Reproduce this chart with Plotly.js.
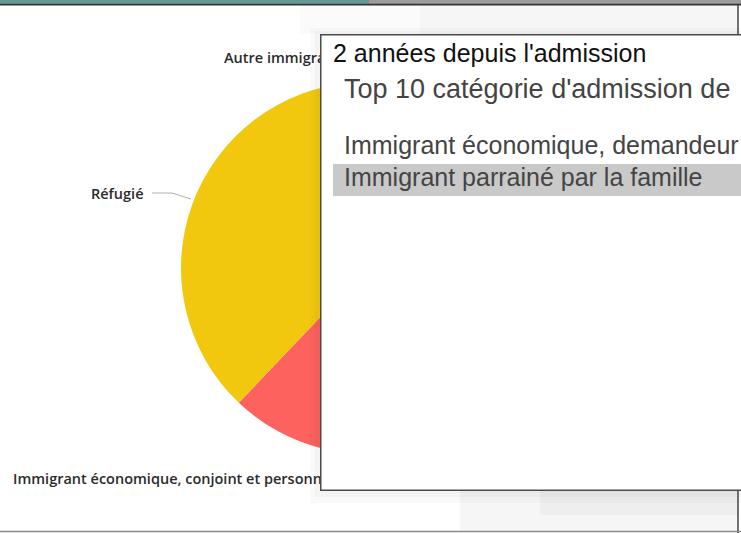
<!DOCTYPE html>
<html>
<head>
<meta charset="utf-8">
<script src="https://cdn.plot.ly/plotly-3.0.1.min.js"></script>
<style>html,body{margin:0;padding:0;background:#fff;}#chart{width:741px;height:533px;}</style>
</head>
<body>
<div id="chart"></div>
<script>
// Data (hidden slices estimated)
const categories = [
  "Immigrant économique, demandeur principal",
  "Immigrant parrainé par la famille",
  "Immigrant économique, conjoint et personnes à charge",
  "Réfugié",
  "Autre immigrant"
];
const values = [27.5, 18.3, 16.3, 36.8, 1.1];
const sliceColors = ["#01B8AA", "#374649", "#FD625E", "#F2C80F", "#5F6B6D"];
const dropdownTitle = "2 années depuis l'admission";
const dropdownItems = [
  "Top 10 catégorie d'admission de",
  "Immigrant économique, demandeur",
  "Immigrant parrainé par la famille"
];

const W = 741, H = 533;
const X = px => px / W;
const Y = py => 1 - py / H;

const labelFont = {family: "'Open Sans', Roboto, sans-serif", size: 14.5, weight: 600, color: "#2b2b2b"};
const ddFont = {family: "'Liberation Sans', Arial, sans-serif", size: 25, color: "#444444"};

const trace = {
  type: "pie",
  labels: categories,
  values: values,
  sort: false,
  direction: "clockwise",
  rotation: 0,
  marker: {colors: sliceColors, line: {width: 0}},
  textinfo: "none",
  hoverinfo: "none",
  showlegend: false,
  domain: {x: [X(181), X(553)], y: [Y(454), Y(82)]}
};

const shapes = [
  // top strips
  {type: "rect", xref: "paper", yref: "paper", x0: 0, x1: X(369), y0: Y(3.5), y1: 1, fillcolor: "#5e9b97", line: {width: 0}, layer: "above"},
  {type: "rect", xref: "paper", yref: "paper", x0: X(369), x1: 1, y0: Y(3.5), y1: 1, fillcolor: "#9c9c9c", line: {width: 0}, layer: "above"},
  {type: "line", xref: "paper", yref: "paper", x0: 0, x1: 1, y0: Y(4.5), y1: Y(4.5), line: {color: "#333", width: 2}, layer: "above"},
  // header box above dropdown (soft gradient)
  {type: "rect", xref: "paper", yref: "paper", x0: X(300), x1: X(738), y0: Y(34), y1: Y(5.5), fillcolor: "rgba(0,0,0,0.015)", line: {width: 0}, layer: "above"},
  {type: "rect", xref: "paper", yref: "paper", x0: X(420), x1: X(738), y0: Y(34), y1: Y(5.5), fillcolor: "rgba(0,0,0,0.02)", line: {width: 0}, layer: "above"},
  {type: "line", xref: "paper", yref: "paper", x0: X(738), x1: X(738), y0: Y(34), y1: Y(5), line: {color: "#444", width: 1.5}, layer: "above"},
  // shadow of dropdown
  {type: "rect", xref: "paper", yref: "paper", x0: X(310), x1: 1.05, y0: Y(503), y1: Y(28), fillcolor: "rgba(0,0,0,0.02)", line: {width: 0}, layer: "above"},
  {type: "rect", xref: "paper", yref: "paper", x0: X(315), x1: 1.05, y0: Y(497), y1: Y(31), fillcolor: "rgba(0,0,0,0.025)", line: {width: 0}, layer: "above"},
  // bottom box
  {type: "rect", xref: "paper", yref: "paper", x0: X(460), x1: X(738), y0: Y(531), y1: Y(491), fillcolor: "rgba(0,0,0,0.035)", line: {width: 0}, layer: "above"},
  {type: "rect", xref: "paper", yref: "paper", x0: X(540), x1: X(738), y0: Y(515), y1: Y(491), fillcolor: "rgba(0,0,0,0.03)", line: {width: 0}, layer: "above"},
  {type: "line", xref: "paper", yref: "paper", x0: X(738), x1: X(738), y0: 0, y1: Y(491), line: {color: "#444", width: 1.5}, layer: "above"},
  {type: "line", xref: "paper", yref: "paper", x0: 0, x1: 1, y0: Y(531.5), y1: Y(531.5), line: {color: "#8a8a8a", width: 1.5}, layer: "above"},
  // leader line for Réfugié
  {type: "path", xref: "paper", yref: "paper", layer: "above",
   path: `M ${X(152)} ${Y(193)} L ${X(172)} ${Y(193)} L ${X(191)} ${Y(199)}`,
   line: {color: "#b0b0b0", width: 1}}
];

const annotations = [
  {text: categories[4], xref: "paper", yref: "paper", x: X(222), y: Y(58), xanchor: "left", yanchor: "middle", showarrow: false, font: labelFont},
  {text: categories[3], xref: "paper", yref: "paper", x: X(146), y: Y(193), xanchor: "right", yanchor: "middle", showarrow: false, font: labelFont},
  {text: categories[2], xref: "paper", yref: "paper", x: X(11), y: Y(478), xanchor: "left", yanchor: "middle", showarrow: false, font: labelFont},
  // dropdown panel
  {text: " ", xref: "paper", yref: "paper", x: X(320), y: Y(34), xanchor: "left", yanchor: "top", width: 450, height: 454, bgcolor: "#ffffff", bordercolor: "#4a4a4a", borderwidth: 1.5, borderpad: 0, showarrow: false},
  {text: " ", xref: "paper", yref: "paper", x: X(333), y: Y(164), xanchor: "left", yanchor: "top", width: 430, height: 32, bgcolor: "#c9c9c9", borderwidth: 0, borderpad: 0, showarrow: false},
  {text: dropdownTitle, xref: "paper", yref: "paper", x: X(331), y: Y(53), xanchor: "left", yanchor: "middle", showarrow: false, font: Object.assign({}, ddFont, {color: "#111111"})},
  {text: dropdownItems[0], xref: "paper", yref: "paper", x: X(342), y: Y(89), xanchor: "left", yanchor: "middle", showarrow: false, font: Object.assign({}, ddFont, {size: 27})},
  {text: dropdownItems[1], xref: "paper", yref: "paper", x: X(342), y: Y(145), xanchor: "left", yanchor: "middle", showarrow: false, font: ddFont},
  {text: dropdownItems[2], xref: "paper", yref: "paper", x: X(342), y: Y(177), xanchor: "left", yanchor: "middle", showarrow: false, font: ddFont}
];

const layout = {
  width: W, height: H,
  margin: {l: 0, r: 0, t: 0, b: 0},
  paper_bgcolor: "#ffffff",
  plot_bgcolor: "#ffffff",
  shapes: shapes,
  annotations: annotations,
  showlegend: false
};

Plotly.newPlot("chart", [trace], layout, {displayModeBar: false, staticPlot: true});
</script>
</body>
</html>
